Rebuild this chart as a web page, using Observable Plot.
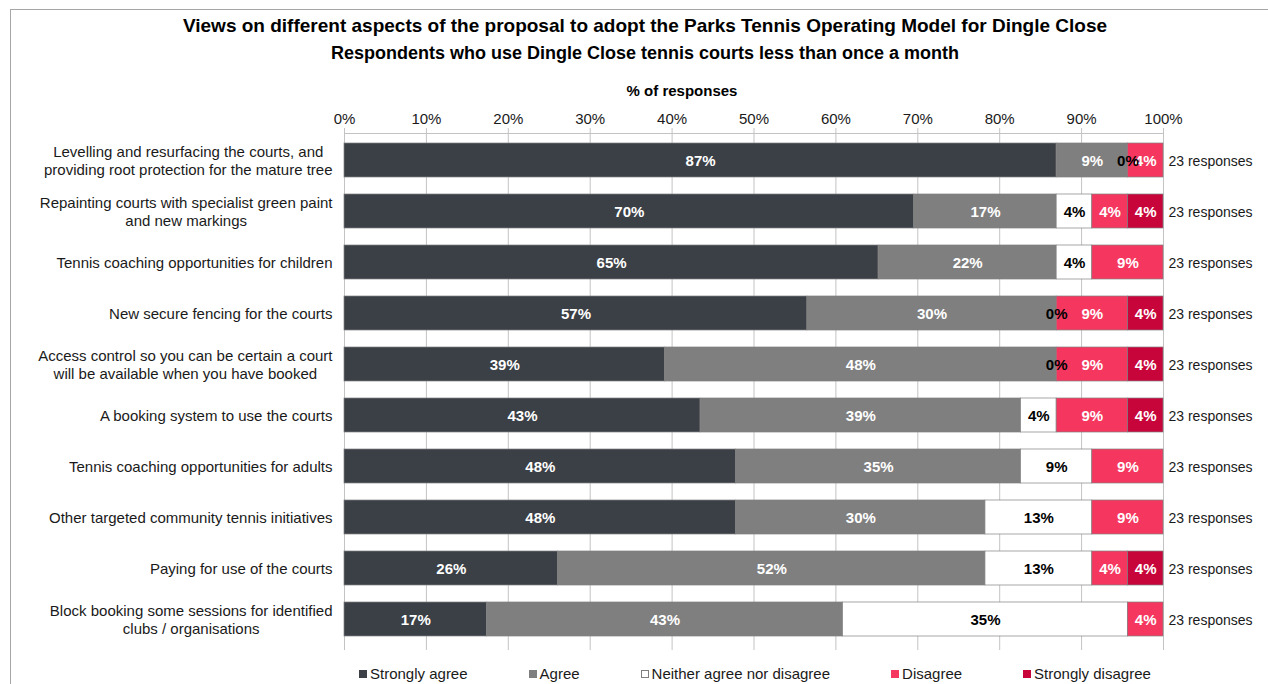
<!DOCTYPE html>
<html>
<head>
<meta charset="utf-8">
<script src="https://cdn.jsdelivr.net/npm/d3@7"></script>
<script src="https://cdn.jsdelivr.net/npm/@observablehq/plot@0.6"></script>
<style>
  html, body { margin: 0; padding: 0; background: #fff; }
  body { font-family: "Liberation Sans", Arial, sans-serif; color: #1a1a1a; }
  #wrap { position: relative; width: 1268px; height: 684px; overflow: hidden; }
  #border { position: absolute; left: 10px; top: 9px; width: 1300px; height: 700px;
            border-left: 1px solid #a6a6a6; border-top: 1px solid #a6a6a6; }
  .t { position: absolute; white-space: nowrap; font-weight: bold; color: #000; line-height: 1.15; }
  #title { left: 0; width: 1290px; text-align: center; top: 15px; font-size: 19px; }
  #subtitle { left: 0; width: 1290px; text-align: center; top: 43px; font-size: 18px; }
  #xlabel { left: 532px; width: 300px; text-align: center; top: 82px; font-size: 15px; }
  #chart { position: absolute; left: 0; top: 0; }
  #legend { position: absolute; left: 359px; top: 665px; display: flex; gap: 61px; font-size: 15px; color: #1a1a1a; line-height: 1.15; }
  #legend .item { display: flex; align-items: center; white-space: nowrap; }
  #legend .sw { width: 8px; height: 8px; margin-right: 3px; box-sizing: border-box; border: 1px solid #7f7f7f; }
</style>
</head>
<body>
<div id="wrap">
  <div id="border"></div>
  <div class="t" id="title">Views on different aspects of the proposal to adopt the Parks Tennis Operating Model for Dingle Close</div>
  <div class="t" id="subtitle">Respondents who use Dingle Close tennis courts less than once a month</div>
  <div class="t" id="xlabel">% of responses</div>
  <div id="chart"></div>
  <div id="legend"></div>
</div>
<script>
const items = [
  "Levelling and resurfacing the courts, and\nproviding root protection for the mature tree",
  "Repainting courts with specialist green paint\nand new markings",
  "Tennis coaching opportunities for children",
  "New secure fencing for the courts",
  "Access control so you can be certain a court\nwill be available when you have booked",
  "A booking system to use the courts",
  "Tennis coaching opportunities for adults",
  "Other targeted community tennis initiatives",
  "Paying for use of the courts",
  "Block booking some sessions for identified\nclubs / organisations"
];
const categories = ["Strongly agree", "Agree", "Neither agree nor disagree", "Disagree", "Strongly disagree"];
const colors = ["#3b3f46", "#7f7f7f", "#ffffff", "#f5375f", "#c8053a"];
// counts of respondents per answer (out of total responses)
const stronglyAgree    = [20, 16, 15, 13,  9, 10, 11, 11,  6,  4];
const agree            = [ 2,  4,  5,  7, 11,  9,  8,  7, 12, 10];
const neither          = [ 0,  1,  1,  0,  0,  1,  2,  3,  3,  8];
const disagree         = [ 1,  1,  2,  2,  2,  2,  2,  2,  1,  1];
const stronglyDisagree = [ 0,  1,  0,  1,  1,  1,  0,  0,  1,  0];
const responses        = [23, 23, 23, 23, 23, 23, 23, 23, 23, 23];
const xTicks = [0, 10, 20, 30, 40, 50, 60, 70, 80, 90, 100];

const series = [stronglyAgree, agree, neither, disagree, stronglyDisagree];
const data = [];
items.forEach((item, i) => {
  categories.forEach((cat, j) => {
    const n = series[j][i];
    data.push({item, cat, n, pct: n / responses[i] * 100});
  });
});
const rows = items.map((item, i) => ({item, n: responses[i]}));
const NEU = categories[2];
const fmt = d => Math.round(d.pct) + "%";

const plot = Plot.plot({
  width: 1268,
  height: 660,
  marginLeft: 344,
  marginRight: 105,
  marginTop: 133,
  marginBottom: 10,
  style: {fontFamily: '"Liberation Sans", Arial, sans-serif', fontSize: "15px", color: "#1a1a1a", background: "transparent", overflow: "visible"},
  x: {domain: [0, 100], label: null},
  y: {domain: items, paddingInner: 0.33, paddingOuter: 0.165, insetTop: 1, insetBottom: 4, label: null},
  color: {domain: categories, range: colors},
  marks: [
    Plot.gridX(xTicks, {stroke: "#c3c3c3", strokeOpacity: 1, strokeWidth: 1}),
    Plot.ruleX([0], {stroke: "#c3c3c3"}),
    Plot.frame({anchor: "top", stroke: "#c3c3c3"}),
    Plot.barX(data, Plot.stackX({x: "pct", y: "item", fill: "cat", stroke: "#808080", strokeWidth: 0.7})),
    Plot.text(data, Plot.stackX({x: "pct", y: "item", text: d => (d.cat !== NEU && d.n > 0) ? fmt(d) : "", fill: "#ffffff", fontWeight: "bold", fontSize: 15, dy: 1})),
    Plot.text(data, Plot.stackX({x: "pct", y: "item", text: d => d.cat === NEU ? fmt(d) : "", fill: "#000000", fontWeight: "bold", fontSize: 15, dy: 1})),
    Plot.text(rows, {y: "item", frameAnchor: "right", textAnchor: "start", dx: 5, dy: 1, text: d => `${d.n} responses`, fill: "#1a1a1a", fontSize: 14}),
    Plot.axisX(xTicks, {anchor: "top", tickSize: 6, stroke: "#c3c3c3", tickFormat: () => "", label: null}),
    Plot.axisX(xTicks, {anchor: "top", tickSize: 0, tickPadding: 10, tickFormat: d => d + "%", fill: "#1a1a1a", fontSize: 15, label: null}),
    Plot.axisY({tickSize: 0, tickPadding: 12, lineHeight: 1.2, fill: "#1a1a1a", fontSize: 15, label: null})
  ]
});
document.getElementById("chart").appendChild(plot);

// center the lines of multi-line category labels within their right-aligned block
plot.querySelectorAll('g[aria-label="y-axis tick label"] text').forEach(t => {
  const spans = t.querySelectorAll("tspan");
  if (spans.length > 1) {
    const w = Math.max(...Array.from(spans, s => s.getComputedTextLength()));
    t.setAttribute("text-anchor", "middle");
    spans.forEach(s => s.setAttribute("x", -w / 2));
  }
});

const legend = document.getElementById("legend");
categories.forEach((c, i) => {
  const it = document.createElement("div");
  it.className = "item";
  const sw = document.createElement("span");
  sw.className = "sw";
  sw.style.background = colors[i];
  if (i !== 2) sw.style.borderColor = colors[i];
  it.appendChild(sw);
  it.appendChild(document.createTextNode(c));
  legend.appendChild(it);
});
</script>
</body>
</html>
